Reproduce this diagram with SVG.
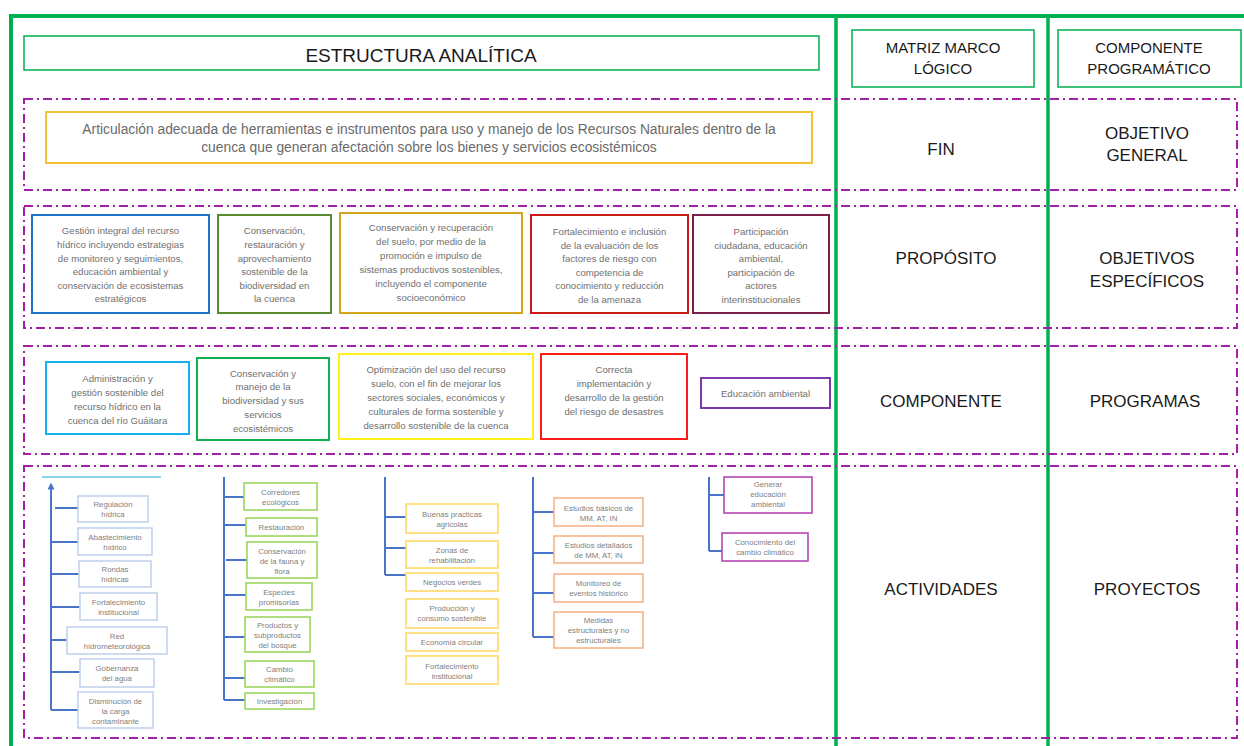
<svg xmlns="http://www.w3.org/2000/svg" width="1244" height="746" viewBox="0 0 1244 746">
<defs>
<style>
.frame{stroke:#00b050;fill:none}
.row{fill:none;stroke:#a21fa8;stroke-width:2;stroke-dasharray:9 4 2 4}
.hdr{fill:#fff;stroke:#00b050;stroke-width:1.5}
.box{fill:#fff;stroke-width:2}
.act{fill:#fff;stroke-width:1.6}
.lbl{font-family:"Liberation Sans",Arial,sans-serif;fill:#1a1a1a;text-anchor:middle}
.t{font-family:"Liberation Sans",Arial,sans-serif;fill:#707070;text-anchor:middle;font-size:9.6px}
.tf{font-family:"Liberation Sans",Arial,sans-serif;fill:#6a6a6a;text-anchor:middle;font-size:13.8px}
.ta{font-family:"Liberation Sans",Arial,sans-serif;fill:#808080;text-anchor:middle;font-size:7.8px}
.tree{stroke:#4a74c8;stroke-width:2;fill:none}
</style>
<marker id="up" viewBox="0 0 10 10" refX="8" refY="5" markerWidth="7" markerHeight="7" orient="auto" markerUnits="userSpaceOnUse">
<path d="M0,0 L10,5 L0,10 Z" fill="#4a74c8"/>
</marker>
</defs>
<rect width="1244" height="746" fill="#fff"/>

<g id="frame">
<line class="frame" x1="9" y1="16" x2="1244" y2="16" stroke-width="4"/>
<line class="frame" x1="11" y1="14" x2="11" y2="746" stroke-width="4"/>
<line class="frame" x1="836" y1="16" x2="836" y2="746" stroke-width="3.5"/>
<line class="frame" x1="1048" y1="16" x2="1048" y2="746" stroke-width="3.5"/>
</g>

<g id="rows">
<rect class="row" x="24" y="99" width="1213" height="91"/>
<rect class="row" x="24" y="206" width="1213" height="122"/>
<rect class="row" x="24" y="346" width="1213" height="108"/>
<rect class="row" x="24" y="466" width="1213" height="272"/>
</g>

<g id="header-estructura">
<rect class="hdr" x="24" y="36" width="795" height="34"/>
<text class="lbl" x="421" y="62" font-size="19">ESTRUCTURA ANALÍTICA</text>
</g>
<g id="header-matriz">
<rect class="hdr" x="852" y="30" width="182" height="57"/>
<text class="lbl" x="943" y="53" font-size="15">MATRIZ MARCO</text>
<text class="lbl" x="943" y="74" font-size="15">LÓGICO</text>
</g>
<g id="header-componente">
<rect class="hdr" x="1058" y="30" width="183" height="57"/>
<text class="lbl" x="1149" y="53" font-size="15">COMPONENTE</text>
<text class="lbl" x="1149" y="74" font-size="15">PROGRAMÁTICO</text>
</g>

<g id="fin-box">
<rect class="box" x="46" y="112" width="766" height="51" stroke="#f5c033"/>
<text class="tf" x="429" y="134">Articulación adecuada de herramientas e instrumentos para uso y manejo de los Recursos Naturales dentro de la</text>
<text class="tf" x="429" y="152">cuenca que generan afectación sobre los bienes y servicios ecosistémicos</text>
</g>
<g id="lbl-fin"><text class="lbl" x="941" y="155" font-size="17">FIN</text></g>
<g id="lbl-objgen"><text class="lbl" x="1147" y="139" font-size="17">OBJETIVO</text><text class="lbl" x="1147" y="161" font-size="17">GENERAL</text></g>

<g id="prop-1">
<rect class="box" x="32" y="215" width="177" height="98" stroke="#1c75c9"/>
<text class="t" x="120.5" y="234">Gestión integral del recurso</text>
<text class="t" x="120.5" y="248">hídrico incluyendo estrategias</text>
<text class="t" x="120.5" y="262">de monitoreo y seguimientos,</text>
<text class="t" x="120.5" y="275">educación ambiental y</text>
<text class="t" x="120.5" y="289">conservación de ecosistemas</text>
<text class="t" x="120.5" y="302">estratégicos</text>
</g>
<g id="prop-2">
<rect class="box" x="218" y="215" width="113" height="98" stroke="#5b8c32"/>
<text class="t" x="274.5" y="234">Conservación,</text>
<text class="t" x="274.5" y="248">restauración y</text>
<text class="t" x="274.5" y="262">aprovechamiento</text>
<text class="t" x="274.5" y="275">sostenible de la</text>
<text class="t" x="274.5" y="289">biodiversidad en</text>
<text class="t" x="274.5" y="302">la cuenca</text>
</g>
<g id="prop-3">
<rect class="box" x="340" y="213" width="182" height="100" stroke="#d4a51a"/>
<text class="t" x="431" y="231">Conservación y recuperación</text>
<text class="t" x="431" y="245">del suelo, por medio de la</text>
<text class="t" x="431" y="259">promoción e impulso de</text>
<text class="t" x="431" y="273">sistemas productivos sostenibles,</text>
<text class="t" x="431" y="287">incluyendo el componente</text>
<text class="t" x="431" y="301">socioeconómico</text>
</g>
<g id="prop-4">
<rect class="box" x="531" y="215" width="157" height="98" stroke="#cc1a1a"/>
<text class="t" x="609.5" y="235">Fortalecimiento e inclusión</text>
<text class="t" x="609.5" y="248.5">de la evaluación de los</text>
<text class="t" x="609.5" y="262">factores de riesgo con</text>
<text class="t" x="609.5" y="275.5">competencia de</text>
<text class="t" x="609.5" y="289">conocimiento y reducción</text>
<text class="t" x="609.5" y="302.5">de la amenaza</text>
</g>
<g id="prop-5">
<rect class="box" x="693" y="215" width="136" height="98" stroke="#7a1f45"/>
<text class="t" x="761" y="235">Participación</text>
<text class="t" x="761" y="248.5">ciudadana, educación</text>
<text class="t" x="761" y="262">ambiental,</text>
<text class="t" x="761" y="275.5">participación de</text>
<text class="t" x="761" y="289">actores</text>
<text class="t" x="761" y="302.5">interinstitucionales</text>
</g>
<g id="lbl-proposito"><text class="lbl" x="946" y="264" font-size="17">PROPÓSITO</text></g>
<g id="lbl-objesp"><text class="lbl" x="1147" y="264" font-size="17">OBJETIVOS</text><text class="lbl" x="1147" y="287" font-size="17">ESPECÍFICOS</text></g>

<g id="comp-1">
<rect class="box" x="46" y="362" width="143" height="72" stroke="#16b2ee"/>
<text class="t" x="117.5" y="381.5">Administración y</text>
<text class="t" x="117.5" y="395.5">gestión sostenible del</text>
<text class="t" x="117.5" y="409.5">recurso hídrico en la</text>
<text class="t" x="117.5" y="423.5">cuenca del río Guáitara</text>
</g>
<g id="comp-2">
<rect class="box" x="197" y="358" width="132" height="82" stroke="#10b050"/>
<text class="t" x="263" y="376.5">Conservación y</text>
<text class="t" x="263" y="390">manejo de la</text>
<text class="t" x="263" y="404">biodiversidad y sus</text>
<text class="t" x="263" y="418">servicios</text>
<text class="t" x="263" y="431.5">ecosistémicos</text>
</g>
<g id="comp-3">
<rect class="box" x="339" y="354" width="194" height="85" stroke="#fff21a"/>
<text class="t" x="436" y="372.5">Optimización del uso del recurso</text>
<text class="t" x="436" y="386.5">suelo, con el fin de mejorar los</text>
<text class="t" x="436" y="400.5">sectores sociales, económicos y</text>
<text class="t" x="436" y="414.5">culturales de forma sostenible y</text>
<text class="t" x="436" y="428.5">desarrollo sostenible de la cuenca</text>
</g>
<g id="comp-4">
<rect class="box" x="541" y="354" width="146" height="85" stroke="#ff1a1a"/>
<text class="t" x="614" y="372.5">Correcta</text>
<text class="t" x="614" y="386.5">implementación y</text>
<text class="t" x="614" y="400.5">desarrollo de la gestión</text>
<text class="t" x="614" y="414.5">del riesgo de desastres</text>
</g>
<g id="comp-5">
<rect class="box" x="701" y="378" width="129" height="30" stroke="#7b3aa8"/>
<text class="t" x="765.5" y="396.5">Educación ambiental</text>
</g>
<g id="lbl-componente"><text class="lbl" x="941" y="407" font-size="17">COMPONENTE</text></g>
<g id="lbl-programas"><text class="lbl" x="1145" y="407" font-size="17">PROGRAMAS</text></g>
<g id="lbl-actividades"><text class="lbl" x="941" y="595" font-size="17">ACTIVIDADES</text></g>
<g id="lbl-proyectos"><text class="lbl" x="1147" y="595" font-size="17">PROYECTOS</text></g>

<g id="connectors">
<line x1="42" y1="477" x2="161" y2="477" stroke="#8dd2f0" stroke-width="2"/>
<path class="tree" d="M51,710 V484" marker-end="url(#up)"/>
<path class="tree" d="M55,508 H78 M51,542 H78 M51,574 H79 M51,607 H80 M51,640 H67 M51,672 H80 M51,710 H78"/>
<path class="tree" d="M224,477 V700 M224,497 H244 M224,525 H246 M226,560 H247 M224,595 H246 M224,637 H245 M224,678 H245 M224,700 H245"/>
<path class="tree" d="M385,477 V575 M385,517 H406 M385,548 H406 M385,575 H406"/>
<path class="tree" d="M533,477 V637 M533,512 H554 M533,553 H554 M533,593 H554 M533,637 H554"/>
<path class="tree" d="M709,477 V551 M709,495 H724 M709,551 H722" stroke="#7f9fdd"/>
</g>

<g id="act-1-1"><rect class="act" x="78" y="496" width="70" height="26" stroke="#c3d3ee"/><text class="ta" x="113" y="507">Regulación</text><text class="ta" x="113" y="517">hídrica</text></g>
<g id="act-1-2"><rect class="act" x="78" y="528" width="74" height="27" stroke="#c3d3ee"/><text class="ta" x="115" y="540">Abastecimiento</text><text class="ta" x="115" y="550">hídrico</text></g>
<g id="act-1-3"><rect class="act" x="79" y="561" width="72" height="26" stroke="#c3d3ee"/><text class="ta" x="115" y="572">Rondas</text><text class="ta" x="115" y="582">hídricas</text></g>
<g id="act-1-4"><rect class="act" x="80" y="593" width="77" height="27" stroke="#c3d3ee"/><text class="ta" x="118.5" y="605">Fortalecimiento</text><text class="ta" x="118.5" y="615">institucional</text></g>
<g id="act-1-5"><rect class="act" x="67" y="627" width="100" height="27" stroke="#c3d3ee"/><text class="ta" x="117" y="639">Red</text><text class="ta" x="117" y="649">hidrometeorológica</text></g>
<g id="act-1-6"><rect class="act" x="80" y="659" width="74" height="28" stroke="#c3d3ee"/><text class="ta" x="117" y="671">Gobernanza</text><text class="ta" x="117" y="681">del agua</text></g>
<g id="act-1-7"><rect class="act" x="78" y="692" width="75" height="36" stroke="#c3d3ee"/><text class="ta" x="115.5" y="704">Disminución de</text><text class="ta" x="115.5" y="714">la carga</text><text class="ta" x="115.5" y="724">contaminante</text></g>

<g id="act-2-1"><rect class="act" x="244" y="483" width="73" height="27" stroke="#9bd65e"/><text class="ta" x="280.5" y="495">Corredores</text><text class="ta" x="280.5" y="505">ecológicos</text></g>
<g id="act-2-2"><rect class="act" x="246" y="518" width="71" height="18" stroke="#9bd65e"/><text class="ta" x="281.5" y="530">Restauración</text></g>
<g id="act-2-3"><rect class="act" x="247" y="542" width="70" height="36" stroke="#9bd65e"/><text class="ta" x="282" y="554">Conservación</text><text class="ta" x="282" y="564">de la fauna y</text><text class="ta" x="282" y="574">flora</text></g>
<g id="act-2-4"><rect class="act" x="246" y="583" width="66" height="27" stroke="#9bd65e"/><text class="ta" x="279" y="595">Especies</text><text class="ta" x="279" y="605">promisorias</text></g>
<g id="act-2-5"><rect class="act" x="245" y="617" width="65" height="35" stroke="#9bd65e"/><text class="ta" x="277.5" y="628">Productos y</text><text class="ta" x="277.5" y="638">subproductos</text><text class="ta" x="277.5" y="648">del bosque</text></g>
<g id="act-2-6"><rect class="act" x="245" y="661" width="69" height="26" stroke="#9bd65e"/><text class="ta" x="279.5" y="672">Cambio</text><text class="ta" x="279.5" y="682">climático</text></g>
<g id="act-2-7"><rect class="act" x="245" y="693" width="69" height="16" stroke="#9bd65e"/><text class="ta" x="279.5" y="704">Investigación</text></g>

<g id="act-3-1"><rect class="act" x="406" y="504" width="92" height="29" stroke="#ffd966"/><text class="ta" x="452" y="517">Buenas practicas</text><text class="ta" x="452" y="527">agricolas</text></g>
<g id="act-3-2"><rect class="act" x="406" y="541" width="92" height="27" stroke="#ffd966"/><text class="ta" x="452" y="553">Zonas de</text><text class="ta" x="452" y="563">rehabilitación</text></g>
<g id="act-3-3"><rect class="act" x="406" y="573" width="92" height="18" stroke="#ffd966"/><text class="ta" x="452" y="585">Negocios verdes</text></g>
<g id="act-3-4"><rect class="act" x="406" y="599" width="92" height="29" stroke="#ffd966"/><text class="ta" x="452" y="611">Producción y</text><text class="ta" x="452" y="621">consumo sostenible</text></g>
<g id="act-3-5"><rect class="act" x="406" y="633" width="92" height="18" stroke="#ffd966"/><text class="ta" x="452" y="645">Economía circular</text></g>
<g id="act-3-6"><rect class="act" x="406" y="656" width="92" height="28" stroke="#ffd966"/><text class="ta" x="452" y="669">Fortalecimiento</text><text class="ta" x="452" y="679">institucional</text></g>

<g id="act-4-1"><rect class="act" x="554" y="498" width="89" height="28" stroke="#f5b387"/><text class="ta" x="598.5" y="511">Estudios básicos de</text><text class="ta" x="598.5" y="521">MM, AT, IN</text></g>
<g id="act-4-2"><rect class="act" x="554" y="536" width="89" height="27" stroke="#f5b387"/><text class="ta" x="598.5" y="548">Estudios detallados</text><text class="ta" x="598.5" y="558">de MM, AT, IN</text></g>
<g id="act-4-3"><rect class="act" x="554" y="574" width="89" height="28" stroke="#f5b387"/><text class="ta" x="598.5" y="586">Monitoreo de</text><text class="ta" x="598.5" y="596">eventos histórico</text></g>
<g id="act-4-4"><rect class="act" x="554" y="612" width="89" height="36" stroke="#f5b387"/><text class="ta" x="598.5" y="623">Medidas</text><text class="ta" x="598.5" y="633">estructurales y no</text><text class="ta" x="598.5" y="643">estructurales</text></g>

<g id="act-5-1"><rect class="act" x="724" y="477" width="88" height="36" stroke="#b446b4"/><text class="ta" x="768" y="487">Generar</text><text class="ta" x="768" y="497">educación</text><text class="ta" x="768" y="507">ambiental</text></g>
<g id="act-5-2"><rect class="act" x="722" y="533" width="86" height="28" stroke="#b446b4"/><text class="ta" x="765" y="545">Conocimiento del</text><text class="ta" x="765" y="555">cambio climático</text></g>
</svg>
